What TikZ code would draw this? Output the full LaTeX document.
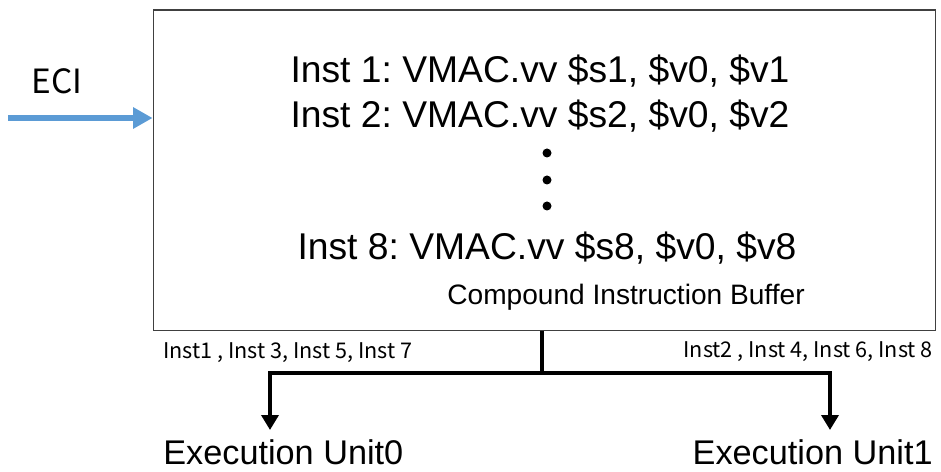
\documentclass[tikz,border=0pt]{standalone}
\usepackage{fontspec}
\setmainfont{Liberation Sans}
\newfontfamily\gothic{Noto Sans CJK JP}
\usetikzlibrary{arrows.meta}
\definecolor{eciblue}{HTML}{5B9BD5}
\frenchspacing

\begin{document}
\begin{tikzpicture}[x=0.02cm, y=-0.02cm,
    instline/.style={anchor=base, inner sep=0pt, font=\fontsize{21.2}{25}\selectfont},
    sidenote/.style={inner sep=0pt, font=\gothic\fontsize{12.3}{14}\selectfont},
    unitlabel/.style={inner sep=0pt, font=\fontsize{19.5}{23}\selectfont},
    dispatch/.style={line width=2.8pt, -{Triangle[length=8.5pt, width=9.6pt]}}]
  \useasboundingbox (0,0) rectangle (941,472);

  % Buffer
  \node[draw=black!75, line width=0.6pt, minimum width=15.66cm, minimum height=6.42cm, inner sep=0pt] (buffer) at (544.5,170.5) {};
  \node[anchor=base, inner sep=0pt, font=\fontsize{16}{19}\selectfont] (bufname) at (626,305) {Compound Instruction Buffer};

  % Instructions
  \foreach \i/\x/\y in {1/540/83, 2/540/128, 8/547/260} {
    \node[instline] (inst\i) at (\x,\y) {Inst \i: VMAC.vv \$s\i, \$v0, \$v\i};
  }
  \foreach \y in {153, 180, 206}
    \fill (547,\y) circle (4.5);

  % ECI input
  \node[anchor=base, inner sep=0pt, font=\gothic\fontsize{19}{22}\selectfont] (eci) at (57,94) {ECI};
  \coordinate (eciin) at (8,118);
  \draw[eciblue, line width=3.4pt, -{Triangle[length=11pt, width=11.5pt]}] (eciin) -- (buffer.west |- eciin);

  % Dispatch to the two units
  \coordinate (split) at (542,373);
  \coordinate (end0) at (270,430);
  \coordinate (end1) at (830,430);
  \draw[dispatch] (buffer.south -| split) -- (split) -| (end0);
  \draw[dispatch] (split) -| (end1);
  \node[sidenote, anchor=base west] (odd) at (163,359) {Inst1 , Inst 3, Inst 5, Inst 7};
  \node[sidenote, anchor=base east] (even) at (933,358) {Inst2 , Inst 4, Inst 6, Inst 8};

  \node[unitlabel, anchor=base west] (unit0) at (163,465) {Execution Unit0};
  \node[unitlabel, anchor=base east] (unit1) at (933,465) {Execution Unit1};
\end{tikzpicture}
\end{document}
